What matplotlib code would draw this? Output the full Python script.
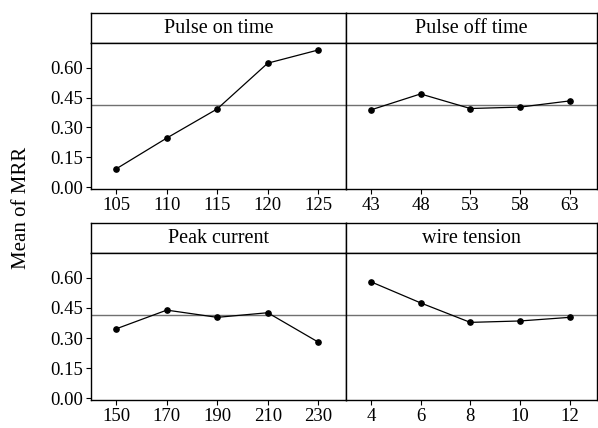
import numpy as np
import matplotlib
matplotlib.use("Agg")
import matplotlib.pyplot as plt

plt.rcParams['font.family'] = ['Liberation Serif', 'DejaVu Serif']

# factor names and levels
factors = ["Pulse on time", "Pulse off time", "Peak current", "wire tension"]
levels_on = ["105", "110", "115", "120", "125"]
levels_off = ["43", "48", "53", "58", "63"]
levels_peak = ["150", "170", "190", "210", "230"]
levels_wire = ["4", "6", "8", "10", "12"]

# mean MRR at each level
mrr_on = [0.093, 0.247, 0.393, 0.622, 0.688]
mrr_off = [0.388, 0.468, 0.395, 0.402, 0.433]
mrr_peak = [0.346, 0.439, 0.403, 0.426, 0.280]
mrr_wire = [0.580, 0.475, 0.378, 0.385, 0.403]

grand_mean = 0.414

levels = [levels_on, levels_off, levels_peak, levels_wire]
means = [mrr_on, mrr_off, mrr_peak, mrr_wire]

W, H = 598, 428
fig = plt.figure(figsize=(W / 100, H / 100), dpi=100)


def px_axes(x0, y0, x1, y1):
    # pixel box (top-left origin) -> figure axes
    return fig.add_axes([x0 / W, 1 - y1 / H, (x1 - x0) / W, (y1 - y0) / H])


xs = [(91, 346), (346, 597)]
rows = [(13, 43, 189), (223, 253, 400)]

for i in range(4):
    r, c = divmod(i, 2)
    x0, x1 = xs[c]
    top, head_bot, bot = rows[r]

    hax = px_axes(x0, top, x1, head_bot)
    hax.set_xticks([])
    hax.set_yticks([])
    hax.text(0.5, 0.48, factors[i], ha='center', va='center', fontsize=14.5,
             transform=hax.transAxes)

    ax = px_axes(x0, head_bot, x1, bot)
    pos = np.arange(len(levels[i]))
    ax.axhline(grand_mean, color='#707070', linewidth=1.0, zorder=1)
    ax.plot(pos, means[i], color='black', linewidth=0.9, marker='o',
            markersize=3.8, zorder=3)
    ax.set_xlim(-0.5, 4.55)
    ax.set_ylim(-0.008, 0.723)
    ax.set_xticks(pos)
    ax.set_xticklabels(levels[i])
    ax.set_yticks([0.0, 0.15, 0.30, 0.45, 0.60])
    if c == 0:
        ax.set_yticklabels(["0.00", "0.15", "0.30", "0.45", "0.60"])
    else:
        ax.tick_params(axis='y', left=False, labelleft=False)
    ax.tick_params(axis='both', direction='out', length=3.6, width=0.8,
                   labelsize=13.5, pad=2, colors='black')
    for sp in ax.spines.values():
        sp.set_linewidth(1.0)
    for sp in hax.spines.values():
        sp.set_linewidth(1.0)

fig.text(22 / W, 1 - 208 / H, "Mean of MRR", rotation=90, ha='center',
         va='center', fontsize=15)

fig.savefig("out.png", dpi=100, facecolor='white')
